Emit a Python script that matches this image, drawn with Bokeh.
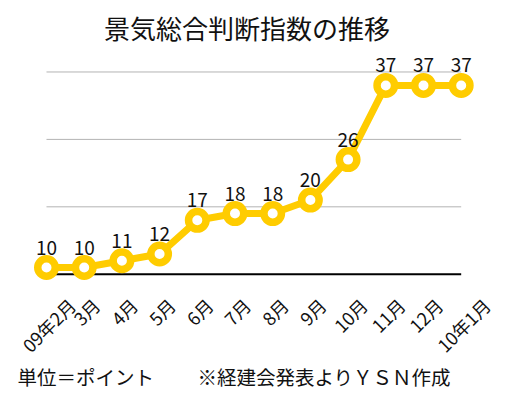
import math
from bokeh.plotting import figure
from bokeh.models import ColumnDataSource, LabelSet, Label, Range1d
from bokeh.core.properties import value
from bokeh.embed import file_html
from bokeh.resources import INLINE

months = ["09年2月", "3月", "4月", "5月", "6月", "7月", "8月", "9月", "10月", "11月", "12月", "10年1月"]
values = [10, 10, 11, 12, 17, 18, 18, 20, 26, 37, 37, 37]
grid_values = [19, 29, 39]
base_value = 9
title_text = "景気総合判断指数の推移"
unit_text = "単位＝ポイント"
source_text = "※経建会発表よりＹＳＮ作成"

FONT = "Noto Sans CJK JP"
GOLD = "#FFCC00"
TXT = "#111111"

xs = list(range(len(months)))
n = len(months)

# the plot frame covers the whole canvas so that no text is clipped
p = figure(width=506, height=397, output_backend="svg", toolbar_location=None,
           x_range=Range1d(-1.220, 12.202), y_range=Range1d(-9.28, 49.60),
           min_border=0)
p.xaxis.visible = False
p.yaxis.visible = False
p.xgrid.visible = False
p.ygrid.visible = False
p.outline_line_color = None

# gridlines spanning first to last category
p.segment(x0=[0] * len(grid_values), x1=[n - 1] * len(grid_values), y0=grid_values, y1=grid_values,
          line_color="#B3B3B3", line_width=1)
p.segment(x0=[0], x1=[n - 1], y0=[base_value], y1=[base_value], line_color="#000000", line_width=2)

src = ColumnDataSource(dict(x=xs, y=values, lab=[str(v) for v in values]))
p.line("x", "y", source=src, line_color=GOLD, line_width=7, line_join="round")
p.scatter("x", "y", source=src, size=17.5, fill_color="white", line_color=GOLD, line_width=7.5)

p.add_layout(LabelSet(x="x", y="y", text="lab", source=src, y_offset=13, text_align="center",
                      text_baseline="alphabetic", text_font=value(FONT), text_font_size="19px",
                      text_color=TXT))

# rotated category labels, centred horizontally under each point
fs = 18
def est_len(s):
    return sum(0.56 * fs if c.isascii() else 1.0 * fs for c in s)
offs = [0.354 * est_len(m) + 2 for m in months]
msrc = ColumnDataSource(dict(x=xs, y=[96] * n, lab=months, off=offs))
p.add_layout(LabelSet(x="x", y="y", y_units="screen", text="lab", source=msrc, x_offset="off",
                      angle=math.pi / 4, text_align="right", text_baseline="middle",
                      text_font=value(FONT), text_font_size=f"{fs}px", text_color=TXT))

p.add_layout(Label(x=246.5, y=370, x_units="screen", y_units="screen", text=title_text,
                   text_align="center", text_baseline="middle", text_font=FONT,
                   text_font_size="26px", text_color=TXT))
p.add_layout(Label(x=17, y=21, x_units="screen", y_units="screen", text=unit_text,
                   text_align="left", text_baseline="middle", text_font=FONT,
                   text_font_size="19.5px", text_color=TXT))
p.add_layout(Label(x=197, y=21, x_units="screen", y_units="screen", text=source_text,
                   text_align="left", text_baseline="middle", text_font=FONT,
                   text_font_size="19.5px", text_color=TXT))

open("out.html", "w").write(file_html(p, INLINE))
